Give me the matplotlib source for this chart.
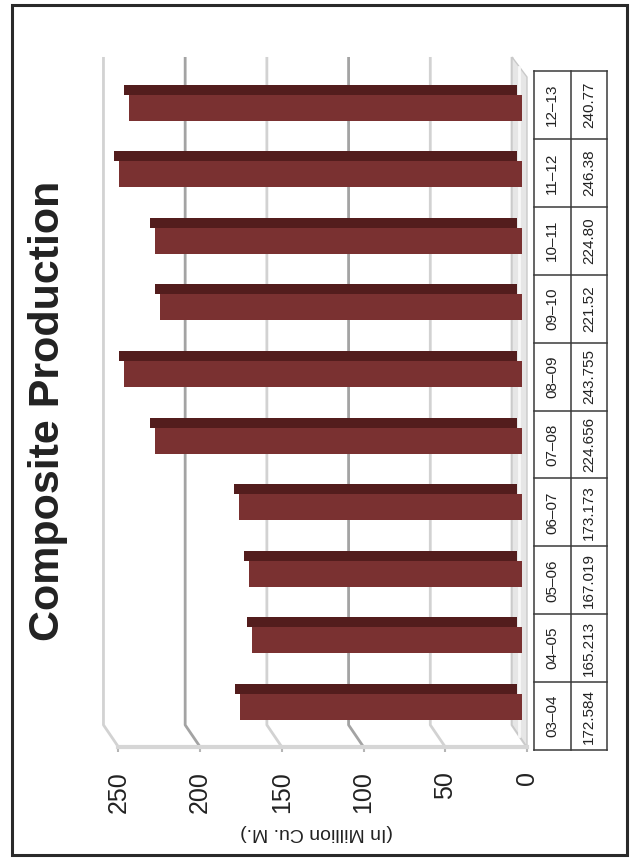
import matplotlib
matplotlib.use('Agg')
import matplotlib.pyplot as plt
from matplotlib import font_manager
from matplotlib.transforms import offset_copy
from matplotlib.patches import Polygon

years = ['03–04', '04–05', '05–06', '06–07', '07–08',
         '08–09', '09–10', '10–11', '11–12', '12–13']
production = [172.584, 165.213, 167.019, 173.173, 224.656,
              243.755, 221.52, 224.80, 246.38, 240.77]
value_labels = ['172.584', '165.213', '167.019', '173.173', '224.656',
                '243.755', '221.52', '224.80', '246.38', '240.77']
ticks = [0, 50, 100, 150, 200, 250]

names = {f.name for f in font_manager.fontManager.ttflist}
narrow = 'Liberation Sans Narrow' if 'Liberation Sans Narrow' in names else 'Liberation Sans'
plt.rcParams['font.family'] = ['Liberation Sans', 'DejaVu Sans']

W, H = 637, 858
fig = plt.figure(figsize=(W / 100, H / 100), dpi=100)

# outer frame
fig.add_artist(plt.Rectangle((12 / W, 1 - 855 / H), 615 / W, 850 / H,
                             transform=fig.transFigure, fill=False,
                             edgecolor='#2a2a2a', linewidth=2.2))

# main (rotated) bar area, pixels 100..530 x 55..752
ax = fig.add_axes([100 / W, 1 - 752 / H, 430 / W, 697 / H])
xmin, xmax = 261.3, -1.84
ax.set_xlim(xmin, xmax)
ax.set_ylim(-0.751, 9.715)
ppu = 430 / (xmin - xmax)  # pixels per value unit
back = 15 / ppu            # depth shift of the back wall in value units

y_top, y_bend, y_floor = 9.685, -0.345, -0.676

# gridlines on the back wall, bending down to the floor ticks
for t in ticks:
    col = '#a3a3a3' if t in (100, 200) else '#d2d2d2'
    if t == 0:
        col = '#cfcfcf'
    ax.plot([t + back, t + back, t], [y_top, y_bend, y_floor],
            color=col, lw=2.0, solid_capstyle='butt', zorder=1)
    ax.plot([t, t], [y_floor, y_floor - 0.08], color='#b5b5b5', lw=1.5, zorder=1)

# side wall at zero
ax.add_patch(Polygon([(back, y_top), (0, 9.384), (0, y_floor), (back, y_bend)],
                     closed=True, facecolor='#e6e6e6', edgecolor='#c9c9c9',
                     lw=1, zorder=1))
ax.plot([back * 0.5, back * 0.5], [9.53, -0.51], color='#f8f8f8', lw=2, zorder=1)

# floor front edge
ax.plot([ticks[-1], 0], [y_floor, y_floor], color='#d6d6d6', lw=3, zorder=1)

# bars: darker top face + front face
idx = list(range(len(years)))
front_tr = offset_copy(ax.transData, fig=fig, x=-5, y=0, units='dots')
top_tr = offset_copy(ax.transData, fig=fig, x=-10, y=0, units='dots')
ax.barh([i + 0.195 for i in idx], production, height=0.15, color='#531d1d',
        linewidth=0, transform=top_tr, zorder=3)
ax.barh([i - 0.075 for i in idx], production, height=0.39, color='#7a3131',
        linewidth=0, transform=front_tr, zorder=4)

ax.set_xticks(ticks)
ax.set_xticklabels([str(t) for t in ticks], rotation=90, va='top', ha='center',
                   fontsize=18, color='#222222')
ax.tick_params(axis='x', length=0, pad=14)
ax.set_yticks([])
for s in ax.spines.values():
    s.set_visible(False)
ax.patch.set_alpha(0)

# data table at the right
tb = fig.add_axes([534 / W, 1 - 750 / H, 73 / W, 679 / H])
tb.set_xlim(0, 2)
tb.set_ylim(-0.5, 9.5)
tb.axis('off')
for b in range(11):
    tb.plot([0, 2], [b - 0.5, b - 0.5], color='#3a3a3a', lw=1.1, clip_on=False)
for c in (0, 1, 2):
    tb.plot([c, c], [-0.5, 9.5], color='#3a3a3a', lw=1.1, clip_on=False)
for i, (yr, lab) in enumerate(zip(years, value_labels)):
    tb.text(0.5, i, yr, rotation=90, ha='center', va='center',
            fontsize=11, family=[narrow, 'DejaVu Sans'], color='#222222')
    tb.text(1.5, i, lab, rotation=90, ha='center', va='center',
            fontsize=11, family=[narrow, 'DejaVu Sans'], color='#222222')

fig.text(48 / W, 1 - 411 / H, 'Composite Production', rotation=90,
         ha='center', va='center', fontsize=31, fontweight='bold', color='#222222')
fig.text(317 / W, 1 - 832 / H, '(In Million Cu. M.)', rotation=180,
         ha='center', va='center', fontsize=14, color='#222222')

fig.savefig('out.png', dpi=100, facecolor='white')
